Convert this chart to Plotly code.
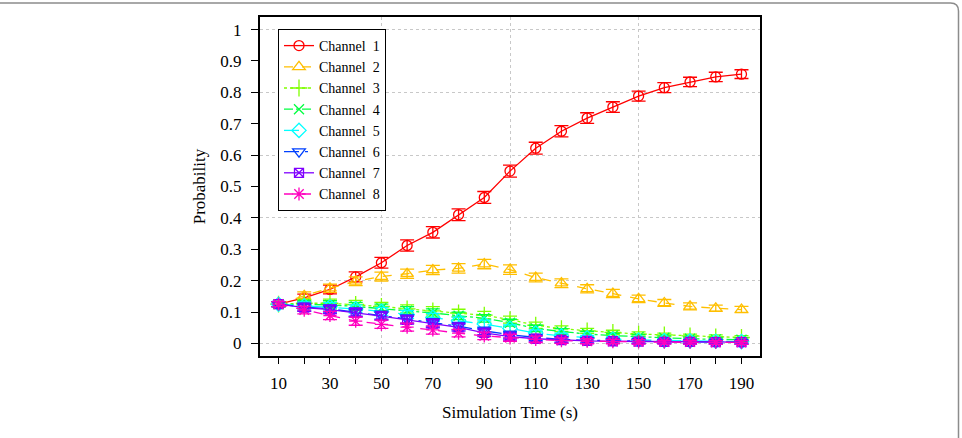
import plotly.graph_objects as go

# ---------------- data ----------------
time_s = [10, 20, 30, 40, 50, 60, 70, 80, 90, 100, 110, 120, 130, 140, 150, 160, 170, 180, 190]

ch1 = [0.125, 0.145, 0.172, 0.212, 0.257, 0.312, 0.354, 0.410, 0.465, 0.549, 0.622, 0.676, 0.718, 0.753, 0.788, 0.815, 0.833, 0.849, 0.858]
ch2 = [0.125, 0.152, 0.176, 0.198, 0.213, 0.222, 0.234, 0.239, 0.253, 0.235, 0.210, 0.192, 0.174, 0.159, 0.142, 0.129, 0.118, 0.112, 0.108]
ch3 = [0.125, 0.128, 0.128, 0.124, 0.118, 0.110, 0.104, 0.097, 0.090, 0.076, 0.058, 0.047, 0.040, 0.035, 0.030, 0.027, 0.024, 0.021, 0.019]
ch4 = [0.125, 0.124, 0.123, 0.118, 0.112, 0.104, 0.097, 0.088, 0.080, 0.066, 0.048, 0.038, 0.030, 0.025, 0.021, 0.018, 0.015, 0.013, 0.012]
ch5 = [0.125, 0.120, 0.117, 0.110, 0.102, 0.092, 0.083, 0.072, 0.062, 0.048, 0.033, 0.024, 0.018, 0.014, 0.011, 0.009, 0.008, 0.007, 0.006]
ch6 = [0.125, 0.116, 0.110, 0.100, 0.090, 0.078, 0.066, 0.055, 0.040, 0.028, 0.019, 0.013, 0.010, 0.008, 0.007, 0.006, 0.005, 0.005, 0.004]
ch7 = [0.125, 0.114, 0.108, 0.098, 0.087, 0.075, 0.063, 0.051, 0.034, 0.022, 0.015, 0.011, 0.008, 0.007, 0.006, 0.005, 0.005, 0.004, 0.004]
ch8 = [0.125, 0.106, 0.089, 0.071, 0.061, 0.052, 0.043, 0.033, 0.024, 0.018, 0.013, 0.009, 0.007, 0.006, 0.005, 0.004, 0.004, 0.003, 0.003]

err1 = [0.008, 0.012, 0.014, 0.016, 0.017, 0.018, 0.018, 0.019, 0.019, 0.019, 0.019, 0.018, 0.017, 0.017, 0.016, 0.016, 0.015, 0.015, 0.014]
err2 = [0.008, 0.012, 0.013, 0.014, 0.014, 0.015, 0.015, 0.015, 0.015, 0.015, 0.014, 0.014, 0.013, 0.013, 0.012, 0.011, 0.011, 0.010, 0.010]
err_low = [0.008, 0.012, 0.013, 0.013, 0.013, 0.013, 0.013, 0.012, 0.012, 0.011, 0.010, 0.009, 0.008, 0.007, 0.007, 0.006, 0.006, 0.006, 0.006]

series_names = ["Channel\u00a0\u00a01", "Channel\u00a0\u00a02", "Channel\u00a0\u00a03", "Channel\u00a0\u00a04",
                "Channel\u00a0\u00a05", "Channel\u00a0\u00a06", "Channel\u00a0\u00a07", "Channel\u00a0\u00a08"]
series_values = [ch1, ch2, ch3, ch4, ch5, ch6, ch7, ch8]
series_errors = [err1, err2, err_low, err_low, err_low, err_low, err_low, err_low]

x_tick_vals = [10, 20, 30, 40, 50, 60, 70, 80, 90, 100, 110, 120, 130, 140, 150, 160, 170, 180, 190]
x_tick_text = ["10", "", "30", "", "50", "", "70", "", "90", "", "110", "", "130", "", "150", "", "170", "", "190"]
y_tick_vals = [0, 0.1, 0.2, 0.3, 0.4, 0.5, 0.6, 0.7, 0.8, 0.9, 1.0]
y_tick_text = ["0", "0.1", "0.2", "0.3", "0.4", "0.5", "0.6", "0.7", "0.8", "0.9", "1"]
x_grid_vals = [50, 100, 150]
y_grid_vals = [0, 0.2, 0.4, 0.6, 0.8, 1.0]

# ---------------- styles ----------------
colors = ["#FF0000", "#FFBF00", "#80FF00", "#00FF40", "#00FFFF", "#0040FF", "#8000FF", "#FF00BF"]
symbols = ["circle-open", "triangle-up-open", "cross-thin-open", "x-thin-open",
           "diamond-open", "triangle-down-open", "square-x-open", "asterisk-open"]
msizes = [10, 11, 12, 10, 11, 11, 9, 11]
dashes = ["solid", "dash", "dot", "dashdot", "longdash", "longdashdot", "solid", "dash"]

FONT = "Liberation Serif, Times New Roman, serif"
FS = 17
LEG_FS = 14
X_RANGE = [2.8, 197.2]
Y_RANGE = [-0.04, 1.04]

fig = go.Figure()

# empty trace so the overlay tick/label axes are realised
fig.add_trace(go.Scatter(x=[], y=[], xaxis="x2", yaxis="y2", showlegend=False, hoverinfo="skip"))

for name, vals, errs, c, s, ms, d in zip(series_names, series_values, series_errors, colors, symbols, msizes, dashes):
    fig.add_trace(go.Scatter(
        x=time_s, y=vals, name=name, mode="lines+markers",
        line=dict(color=c, width=1.3, dash=d),
        marker=dict(symbol=s, size=ms, color=c, line=dict(color=c, width=1.3)),
        error_y=dict(type="data", array=errs, visible=True, color=c, thickness=1.3, width=7),
    ))

# frame around the whole figure (paper coordinates computed from margins)
L, R, T, B = 260, 202, 17, 82
W, H = 962, 438
pw, ph = W - L - R, H - T - B
def px(xp): return (xp - L) / pw
def py(yp): return (H - B - yp) / ph
rx, ry = 8 / pw, 8 / ph
x0, x1, y0, y1 = px(-2), px(958.5), py(442), py(3)
frame_path = (f"M {x0},{y1} L {x1 - rx},{y1} Q {x1},{y1} {x1},{y1 - ry} L {x1},{y0}")

fig.update_layout(
    template="none",
    width=W, height=H,
    margin=dict(l=L, r=R, t=T, b=B),
    paper_bgcolor="white", plot_bgcolor="white",
    font=dict(family=FONT, size=FS, color="black"),
    showlegend=True,
    legend=dict(
        x=px(278), y=py(29), xanchor="left", yanchor="top",
        bgcolor="white", bordercolor="black", borderwidth=1,
        font=dict(family=FONT, size=LEG_FS, color="black"),
        itemwidth=30, tracegroupgap=0,
    ),
    # main axes: only the box and the dotted grid
    xaxis=dict(
        range=X_RANGE, tickmode="array", tickvals=x_grid_vals, showticklabels=False, ticks="",
        showgrid=True, gridcolor="#c8c8c8", griddash="dot", gridwidth=1,
        showline=True, linecolor="black", linewidth=1.5, mirror=True, zeroline=False,
    ),
    yaxis=dict(
        range=Y_RANGE, tickmode="array", tickvals=y_grid_vals, showticklabels=False, ticks="",
        showgrid=True, gridcolor="#c8c8c8", griddash="dot", gridwidth=1,
        showline=True, linecolor="black", linewidth=1.5, mirror=True, zeroline=False,
    ),
    # overlay axes: ticks, labels and titles
    xaxis2=dict(
        range=X_RANGE, overlaying="x", anchor="y2", side="bottom",
        tickmode="array", tickvals=x_tick_vals, ticktext=x_tick_text,
        ticks="outside", ticklen=7, tickwidth=1, tickcolor="black",
        showgrid=False, showline=False, zeroline=False,
        tickfont=dict(family=FONT, size=FS), ticklabelstandoff=5,
        title=dict(text="Simulation Time (s)", font=dict(family=FONT, size=FS), standoff=13),
    ),
    yaxis2=dict(
        range=Y_RANGE, overlaying="y", anchor="x2", side="left",
        tickmode="array", tickvals=y_tick_vals, ticktext=y_tick_text,
        ticks="outside", ticklen=8, tickwidth=1, tickcolor="black",
        showgrid=False, showline=False, zeroline=False,
        tickfont=dict(family=FONT, size=FS), ticklabelstandoff=6,
        title=dict(text="Probability", font=dict(family=FONT, size=FS), standoff=10),
    ),
    shapes=[dict(type="path", path=frame_path, xref="paper", yref="paper",
                 line=dict(color="#8c8c8c", width=1.5), layer="below")],
)

fig.write_html("out.html")
